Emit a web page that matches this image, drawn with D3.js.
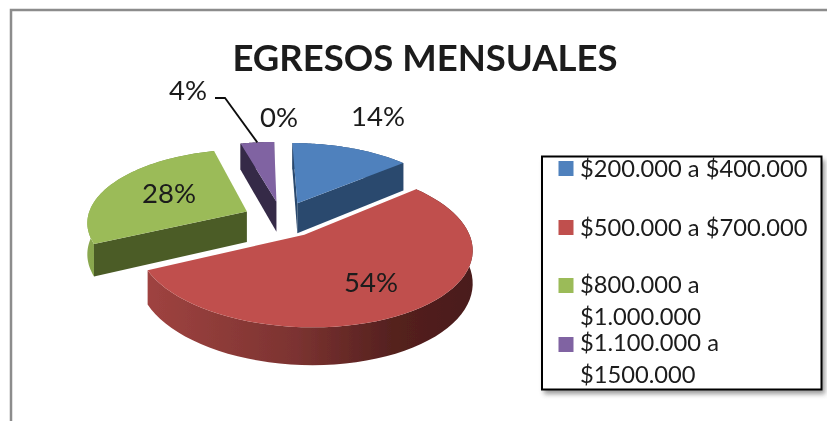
<!DOCTYPE html>
<html><head><meta charset="utf-8">
<script src="https://cdnjs.cloudflare.com/ajax/libs/d3/7.8.5/d3.min.js"></script>
<style>html,body{margin:0;padding:0;background:#fff}svg{display:block}text{font-family:Lato,"Open Sans",sans-serif;fill:#1a1a1a}</style>
</head><body><svg id="c" width="827" height="421"></svg>
<script>
const chartTitle = "EGRESOS MENSUALES";
const categories = ["$200.000 a $400.000","$500.000 a $700.000","$800.000 a $1.000.000","$1.100.000 a $1500.000"];
const legendLines = [["$200.000 a $400.000"],["$500.000 a $700.000"],["$800.000 a","$1.000.000"],["$1.100.000 a","$1500.000"]];
const values = [14,54,28,4,0];
const topColors = ["#4f81bd","#c0504d","#9bbb59","#8064a2","#4bacc6"];
const faceColors = ["#2c4a6e","#7a302e","#4b5b27","#352a47","#2a6070"];

const svg = d3.select("#c");
const defs = svg.append("defs");
const blur = defs.append("filter").attr("id","soft").attr("x","-5%").attr("y","-5%").attr("width","110%").attr("height","110%");
blur.append("feGaussianBlur").attr("stdDeviation",0.45);
const shadow = defs.append("filter").attr("id","shadow").attr("x","-5%").attr("y","-5%").attr("width","115%").attr("height","115%");
shadow.append("feGaussianBlur").attr("stdDeviation",2.5);
const grad = (id,stops)=>{const g=defs.append("linearGradient").attr("id",id);stops.forEach(([o,c])=>g.append("stop").attr("offset",o).attr("stop-color",c));};
grad("wallRed",[[0,"#9f4340"],[0.45,"#7c3331"],[0.75,"#55211f"],[1,"#4a1b1a"]]);
grad("wallGreen",[[0,"#8aa84f"],[1,"#6d8639"]]);
grad("wallBlue",[[0,"#2c4a6e"],[1,"#2c4a6e"]]);
grad("wallPurple",[[0,"#352a47"],[1,"#352a47"]]);

const root = svg.append("g").attr("filter","url(#soft)");
// chart frame
root.append("path").attr("d","M11 421V10H827").attr("fill","none").attr("stroke","#8c8c8c").attr("stroke-width",2.5);
// title
root.append("text").attr("x",425).attr("y",71).attr("text-anchor","middle").attr("font-size",36.5).attr("font-weight",700).text(chartTitle);

// 3D pie geometry
const R=160, tilt=0.46, persp=0.15, shear=0.022, explode=39, depth=31, cx=282, cy=219;
const pie = d3.pie().sort(null).startAngle(0).endAngle(2*Math.PI)(values);
const project=(a,r,mid,z)=>{
  const u=r*Math.sin(a)+explode*Math.sin(mid), v=r*Math.cos(a)+explode*Math.cos(mid);
  const f=1/(1+persp*v/R);
  return [cx+(u-shear*v)*f, cy-v*tilt*f+z*f];
};
const line=d3.line();
const arcPts=(d,r,mid,z)=>d3.range(0,61).map(i=>project(d.startAngle+(d.endAngle-d.startAngle)*i/60,r,mid,z));
const mid=d=>(d.startAngle+d.endAngle)/2;
const walls=["wallBlue","wallRed","wallGreen","wallPurple","wallPurple"];
const order=[3,0,2,1];

// a cut face shows only when the slice's top lies above the edge's line on screen
const faceVisible=(apex,corner,inner)=>{
  const dx=corner[0]-apex[0];
  if(Math.abs(dx)<1e-6) return false;
  const yOnLine=apex[1]+(corner[1]-apex[1])*(inner[0]-apex[0])/dx;
  return inner[1]<yOnLine;
};

const marks=root.append("g");
order.forEach(i=>{
  const d=pie[i], m=mid(d), g=marks.append("g");
  const top=arcPts(d,R,m,0), bot=arcPts(d,R,m,depth);
  const apexT=project(0,0,m,0), apexB=project(0,0,m,depth);
  const inner=project(m,R*0.6,m,0);
  // outer wall
  g.append("path").attr("d",line(top.concat(bot.slice().reverse()))+"Z").attr("fill",`url(#${walls[i]})`);
  // cut faces
  [[top[0],bot[0]],[top[60],bot[60]]].forEach(([cT,cB])=>{
    if(faceVisible(apexT,cT,inner))
      g.append("path").attr("d",line([apexT,cT,cB,apexB])+"Z").attr("fill",faceColors[i]);
  });
  // top surface
  g.append("path").attr("d",line([apexT].concat(top))+"Z").attr("fill",topColors[i]);
});

// leader line for the 4% slice
const pPurple=project(mid(pie[3]),R,mid(pie[3]),0);
root.append("path").attr("d",line([[215,98],[225,98],pPurple])).attr("fill","none").attr("stroke","#111").attr("stroke-width",1.8);

// data labels
const labelAt=[[378,126],[371,292],[169,203],[188,100],[279,127]];
root.append("g").selectAll("text").data(pie).join("text")
  .attr("x",(d,i)=>labelAt[i][0]).attr("y",(d,i)=>labelAt[i][1])
  .attr("text-anchor","middle").attr("font-size",27.5).text(d=>d.value+"%");

// legend
const lg=svg.append("g");
lg.append("rect").attr("x",544).attr("y",160).attr("width",281).attr("height",234).attr("fill","#555").attr("opacity",0.6).attr("filter","url(#shadow)");
const lg2=lg.append("g").attr("filter","url(#soft)");
lg2.append("rect").attr("x",542).attr("y",156.5).attr("width",279.5).attr("height",233).attr("fill","#fff").attr("stroke","#000").attr("stroke-width",2);
const rowMarker=[161,220,278,337], rowBase=[[177],[236],[293,325],[351,383]];
legendLines.forEach((ls,i)=>{
  lg2.append("rect").attr("x",558.5).attr("y",rowMarker[i]).attr("width",15).attr("height",15).attr("fill",topColors[i]);
  ls.forEach((t,j)=>lg2.append("text").attr("x",580).attr("y",rowBase[i][j]).attr("font-size",23.7).text(t));
});
</script></body></html>
